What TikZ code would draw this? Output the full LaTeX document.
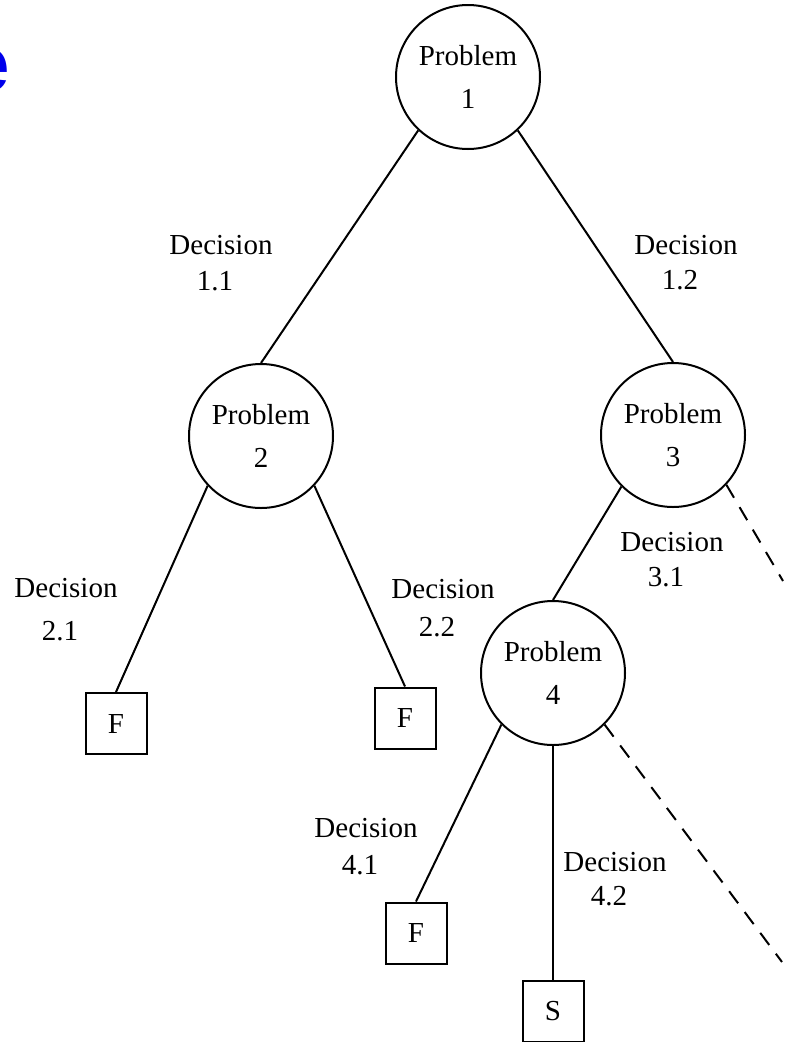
\documentclass[tikz,border=0pt]{standalone}
\usepackage{fontspec}
\setmainfont{Liberation Serif}
\newfontfamily\headsans{Liberation Sans}
\definecolor{headblue}{RGB}{0,0,235}
\begin{document}
\begin{tikzpicture}[x=1pt,y=-1pt,
  every node/.style={font=\fontsize{29}{43}\selectfont},
  prob/.style={draw,circle,line width=2pt,minimum size=144pt,inner sep=0pt,align=center},
  leaf/.style={draw,rectangle,line width=2pt,minimum size=61pt,inner sep=0pt},
  dec/.style={align=center,inner sep=0pt,font=\fontsize{29}{#1}\selectfont},
  edge/.style={line width=2pt},
  open/.style={edge,dash pattern=on 15pt off 11pt}]
\useasboundingbox (0,0) rectangle (788,1042);

% heading letter running in from the left margin
\node[anchor=base west,inner sep=0pt,text=headblue,
      font=\headsans\bfseries\fontsize{80}{80}\selectfont] (mark) at (-35,91) {e};

% problem nodes
\node[prob] (p1) at (468,77)  {Problem\\1};
\node[prob] (p2) at (261,436) {Problem\\2};
\node[prob] (p3) at (673,435) {Problem\\3};
\node[prob] (p4) at (553,673) {Problem\\4};

% outcome boxes
\node[leaf] (f1) at (116,723.5) {F};
\node[leaf] (f2) at (405,718)   {F};
\node[leaf] (f3) at (416,933)   {F};
\node[leaf] (s)  at (553,1011)  {S};

% loose ends of the unexplored branches
\coordinate (d3) at (783,581);
\coordinate (d4) at (782,962);

% branches
\draw[edge] (p1.227) -- (p2.north);
\draw[edge] (p1.313) -- (p3.north);
\draw[edge] (p2.223) -- (f1.north);
\draw[edge] (p2.317) -- (f2.north);
\draw[edge] (p3.225) -- (p4.north);
\draw[open] (p3.317) -- (d3);
\draw[edge] (p4.225) -- (f3.north);
\draw[edge] (p4.south) -- (s.north);
\draw[open] (p4.315) -- (d4);

% decision labels
\node[dec=36] (l11) at (221,263) {Decision\\1.1\hspace*{12pt}};
\node[dec=35] (l12) at (686,263) {Decision\\1.2\hspace*{12pt}};
\node[dec=43] (l21) at (66,609.5) {Decision\\2.1\hspace*{12pt}};
\node[dec=38] (l22) at (443,608) {Decision\\2.2\hspace*{12pt}};
\node[dec=35] (l31) at (672,559.5) {Decision\\3.1\hspace*{12pt}};
\node[dec=37] (l41) at (366,846.5) {Decision\\4.1\hspace*{12pt}};
\node[dec=34] (l42) at (615,879) {Decision\\4.2\hspace*{12pt}};
\end{tikzpicture}
\end{document}
